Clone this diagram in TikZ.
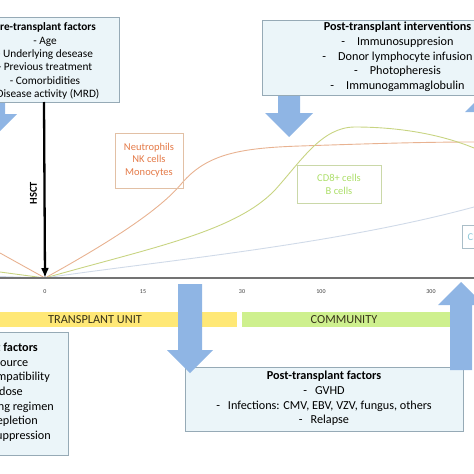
\documentclass[tikz,border=0pt]{standalone}
\usepackage{fontspec}
\setmainfont{Carlito}
\usetikzlibrary{arrows.meta}
\definecolor{boxfill}{RGB}{235,245,249}
\definecolor{boxline}{RGB}{150,170,182}
\definecolor{arrowblue}{RGB}{143,181,228}
\definecolor{ybar}{RGB}{255,232,118}
\definecolor{gbar}{RGB}{206,240,142}
\definecolor{neutc}{RGB}{228,122,72}
\definecolor{neutb}{RGB}{226,192,165}
\definecolor{cdeightc}{RGB}{172,222,105}
\definecolor{cdeightb}{RGB}{202,216,168}
\definecolor{cdfourc}{RGB}{140,198,215}
\definecolor{cdfourb}{RGB}{170,190,200}
\definecolor{tanc}{RGB}{232,178,145}
\definecolor{greenc}{RGB}{200,212,130}
\definecolor{bluec}{RGB}{208,218,232}
\definecolor{axisc}{RGB}{115,115,115}
\definecolor{tickc}{RGB}{60,60,60}
\definecolor{bartext}{RGB}{55,50,25}
\begin{document}
\begin{tikzpicture}[x=1pt,y=-1pt,
  infobox/.style={draw=boxline,fill=boxfill,line width=0.8pt,inner sep=0pt,anchor=north west},
  boxtext/.style={align=center,inner sep=0pt,anchor=north,font=\fontsize{11.3}{13.4}\selectfont},
  boxtextw/.style={align=center,inner sep=0pt,anchor=north,font=\fontsize{12.2}{14.7}\selectfont},
  blockarrow/.style={fill=arrowblue,draw=none},
  celltext/.style={align=center,inner sep=0pt,font=\fontsize{10.5}{12.6}\selectfont},
  tick/.style={font=\fontsize{6}{7}\selectfont,text=tickc,inner sep=0pt},
  bar/.style={inner sep=0pt,anchor=north west},
  bartxt/.style={font=\fontsize{12.3}{13}\selectfont,text=bartext,inner sep=0pt},
  curve/.style={line width=0.9pt}]
\useasboundingbox (0,0) rectangle (474,474);
\clip (0,0) rectangle (474,474);

% curves
\coordinate (O) at (45,278);
\coordinate (tanL) at (0,253);
\coordinate (greenL) at (0,272);
\coordinate (blueL) at (0,276.5);
\coordinate (tanR) at (474,142);
\coordinate (greenR) at (474,148);
\coordinate (blueR) at (474,207);
\draw[curve,tanc] (tanL) -- (O) .. controls (110,242) and (160,210) .. (182,183) .. controls (207,154) and (240,148) .. (300,146) .. controls (360,144) and (420,142) .. (tanR);
\draw[curve,greenc] (greenL) -- (O) .. controls (150,248) and (235,232) .. (275,190) .. controls (302,160) and (322,127) .. (355,127) .. controls (398,127) and (440,134) .. (greenR);
\draw[curve,bluec] (blueL) -- (O) .. controls (150,262) and (330,246) .. (blueR);

% axis
\coordinate (axL) at (0,278);
\coordinate (axR) at (474,278);
\draw[axisc,line width=1.5pt] (axL) -- (axR);
\node[tick] (t0) at (45,292) {0};
\node[tick] (t15) at (143,292) {15};
\node[tick] (t30) at (242,292) {30};
\node[tick] (t100) at (321,292) {100};
\node[tick] (t300) at (431,292) {300};

% bars
\node[bar,fill=ybar,minimum width=237pt,minimum height=15pt] (tu) at (0,312) {};
\node[bar,fill=gbar,minimum width=208pt,minimum height=15pt] (comm) at (242,312) {};
\node[bartxt] (tutxt) at (95,319.5) {TRANSPLANT UNIT};
\node[bartxt] (commtxt) at (344,319.5) {COMMUNITY};

% cell boxes
\node[draw=neutb,line width=0.8pt,anchor=north west,minimum width=68pt,minimum height=55pt,inner sep=0pt] (neutbox) at (115,133) {};
\node[celltext,text=neutc] (neut) at (149,160) {Neutrophils\\NK cells\\Monocytes};
\node[draw=cdeightb,line width=0.8pt,anchor=north west,minimum width=84pt,minimum height=38pt,inner sep=0pt] (cd8box) at (297,165) {};
\node[celltext,text=cdeightc] (cd8) at (339,184.5) {CD8+ cells\\B cells};
\node[draw=cdfourb,line width=0.8pt,anchor=north west,minimum width=78pt,minimum height=23pt,inner sep=0pt] (cd4box) at (462,225) {};
\node[celltext,text=cdfourc,anchor=west] (cd4) at (467.5,237) {CD4+ cells};

% top arrows (behind top boxes)
\fill[blockarrow] (-17,80) -- (5,80) -- (5,114) -- (17,114) -- (-6,137) -- (-29,114) -- (-17,114) -- cycle;
\fill[blockarrow] (278,80) -- (300,80) -- (300,113) -- (313,113) -- (289,137) -- (265,113) -- (278,113) -- cycle;
\fill[blockarrow] (478,200) -- (478,112) -- (465,112) -- (489,88) -- (513,112) -- (500,112) -- (500,200) -- cycle;

% top boxes
\node[infobox,minimum width=148pt,minimum height=85pt] (pre) at (-29,17) {};
\node[boxtext] (pretxt) at (45,22.5) {\textbf{Pre-transplant factors}\\- Age\\- Underlying desease\\- Previous treatment\\- Comorbidities\\- Disease activity (MRD)};
\node[infobox,minimum width=278pt,minimum height=75pt] (postint) at (262,20) {};
\node[boxtextw] (postinttxt) at (397.5,22) {\textbf{Post-transplant interventions}\\-\hspace{12pt}Immunosuppresion\\-\hspace{12pt}Donor lymphocyte infusion\\-\hspace{12pt}Photopheresis\\-\hspace{12pt}Immunogammaglobulin};

% HSCT arrow
\coordinate (hsctTop) at (44,102);
\draw[line width=2.3pt,-{Latex[length=10pt,width=8pt]}] (hsctTop) -- (O);
\node[rotate=90,font=\bfseries\fontsize{10.5}{12}\selectfont,inner sep=0pt] (hsct) at (33.5,193) {HSCT};

% bottom boxes
\node[infobox,minimum width=148pt,minimum height=123pt] (trf) at (-80,332) {};
\foreach \n/\t/\xe/\yb in {1/\textbf{Transplant factors}/38/351,2/- Stem cell source/28.5/366,3/- HLA compatibility/50/380,4/- Cell dose/23/395,5/- Conditioning regimen/54/410,6/- T-cell depletion/38/424,7/- Immunosuppression/51/439}
  \node[anchor=base east,inner sep=0pt,font=\fontsize{12.2}{13}\selectfont] (trf\n) at (\xe,\yb) {\t};
\node[infobox,minimum width=278pt,minimum height=64pt] (postf) at (185,367) {};
\node[boxtextw] (postftxt) at (324,371) {\textbf{Post-transplant factors}\\-\hspace{8pt}GVHD\\-\hspace{8pt}Infections: CMV, EBV, VZV, fungus, others\\-\hspace{8pt}Relapse};

% bottom arrows
\fill[blockarrow] (178,284) -- (202,284) -- (202,350) -- (213,350) -- (190,373) -- (167,350) -- (178,350) -- cycle;
\fill[blockarrow] (450,370) -- (450,305) -- (438,305) -- (461,282) -- (484,305) -- (472,305) -- (472,370) -- cycle;
\end{tikzpicture}
\end{document}
